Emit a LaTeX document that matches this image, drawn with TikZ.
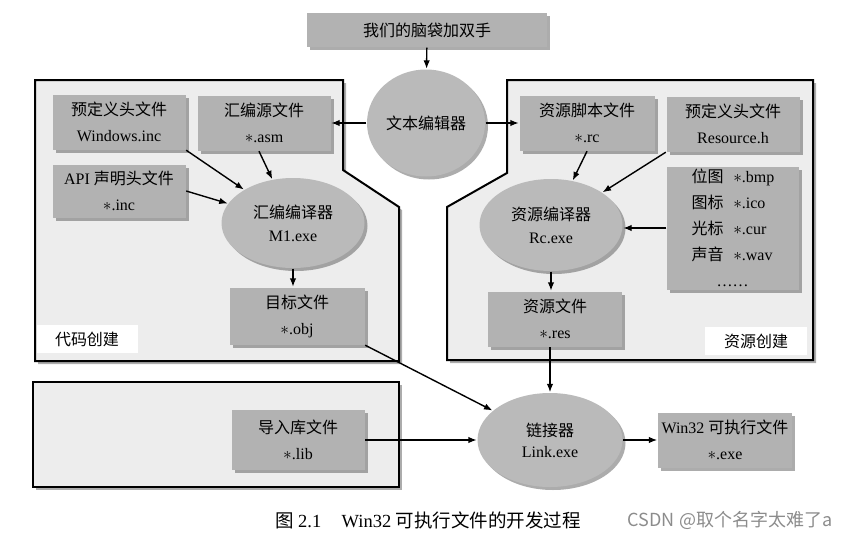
\documentclass[tikz,border=0pt]{standalone}
\usepackage{fontspec}
\setmainfont{Liberation Serif}
\newfontfamily\cjk{Noto Sans CJK SC}
\usepackage{xcolor}
\usetikzlibrary{arrows.meta, shadows, shapes.geometric}
\newcommand{\zh}[1]{{\cjk #1}}
\newcommand{\ext}[1]{$\ast$#1}

\begin{document}
\begin{tikzpicture}[x=1pt, y=-1pt, >={Latex[length=8.5pt, width=6.5pt]}, line width=1.4pt,
    font=\fontsize{16}{26}\selectfont,
    shd/.style={drop shadow={shadow xshift=3pt, shadow yshift=-3pt,
                fill=black!65, opacity=0.5}},
    box/.style={shd, fill=black!30, align=center, inner sep=2pt,
                minimum width=133pt, minimum height=55pt},
    ell/.style={ellipse, shd, fill=black!27, align=center, inner sep=0pt},
    panel/.style={draw, line width=2pt, fill=black!7, shd},
    tag/.style={fill=white, inner sep=0pt,
                minimum width=101pt, minimum height=28pt}]

    \useasboundingbox (0,0) rectangle (855,536);

    % panels
    \draw[panel] (35,80) -- (343,80) -- (343,170) -- (399,207)
      -- (399,361) -- (35,361) -- cycle;
    \draw[panel] (507,80) -- (813,80) -- (813,360) -- (447,360)
      -- (447,207) -- (507,173) -- cycle;
    \draw[panel] (33,382) rectangle (399,487);

    \node[box, minimum width=240pt, minimum height=34pt] (head) at (427,30)
      {\zh{我们的脑袋加双手}};
    \node[ell, minimum width=118pt, minimum height=107pt] (edit) at (426,123)
      {\zh{文本编辑器}};

    % code creation
    \node[box] (winc) at (119,122) {\zh{预定义头文件}\\Windows.inc};
    \node[box] (asm) at (264,123) {\zh{汇编源文件}\\\ext{.asm}};
    \node[box, minimum height=53pt] (apiinc) at (119,191)
      {API \zh{声明头文件}\\\ext{.inc}};
    \node[ell, minimum width=143pt, minimum height=90pt] (m1) at (293,223)
      {\zh{汇编编译器}\\[-3pt]M1.exe};
    \node[box, minimum width=135pt, minimum height=57pt] (obj) at (297,316)
      {\zh{目标文件}\\\ext{.obj}};
    \node[tag] (codelbl) at (87,339) {\zh{代码创建}};

    % resource creation
    \node[box, minimum width=135pt] (rc) at (587,123) {\zh{资源脚本文件}\\\ext{.rc}};
    \node[box] (resh) at (733,124) {\zh{预定义头文件}\\Resource.h};
    \node[box, minimum width=132pt, minimum height=123pt, align=left] (list) at (733,228)
      {\zh{位图}\hspace{0.6em}\ext{.bmp}\\\zh{图标}\hspace{0.6em}\ext{.ico}\\
       \zh{光标}\hspace{0.6em}\ext{.cur}\\\zh{声音}\hspace{0.6em}\ext{.wav}\\
       \hspace*{25pt}……};
    \node[ell, minimum width=143pt, minimum height=92pt] (rcexe) at (551,225)
      {\zh{资源编译器}\\[-3pt]Rc.exe};
    \node[box, minimum width=134pt] (res) at (555,319) {\zh{资源文件}\\\ext{.res}};
    \node[tag, minimum width=102pt] (reslbl) at (756,341) {\zh{资源创建}};

    % linking
    \node[box, minimum height=60pt] (lib) at (298,440) {\zh{导入库文件}\\\ext{.lib}};
    \node[ell, minimum width=145pt, minimum height=94pt] (link) at (550,440)
      {\zh{链接器}\\[-5pt]Link.exe};
    \node[box, minimum width=134pt] (exe) at (725,440)
      {Win32 \zh{可执行文件}\\\ext{.exe}};

    % edges
    \draw[->] (head) -- (edit);
    \draw[->] (edit) -- (asm);
    \draw[->] (edit) -- (rc);
    \draw[->] (winc.south east) -- (m1);
    \draw[->] ([xshift=-5pt]asm.south) -- (m1);
    \draw[->] (apiinc.east) -- (m1);
    \draw[->] (m1) -- (m1 |- obj.north);
    \draw[->] (rc.south) -- (rcexe);
    \draw[->] (resh.south west) -- (rcexe);
    \draw[->] (list.west) -- (list.west -| rcexe.east);
    \draw[->] (rcexe) -- (rcexe |- res.north);
    \draw[->] (link |- res.south) -- (link);
    \draw[->] (obj.south east) -- (link);
    \draw[->] (lib) -- (link);
    \draw[->] (link) -- (exe);

    % caption
    \node[font=\fontsize{18.5}{22}\selectfont] (cap) at (428,520)
      {\zh{图} 2.1\hspace{1.1em}Win32 \zh{可执行文件的开发过程}};
    \node[font=\cjk\fontsize{18}{22}\selectfont, text=black!45] (mark) at (730,520)
      {CSDN @取个名字太难了a};
\end{tikzpicture}
\end{document}
